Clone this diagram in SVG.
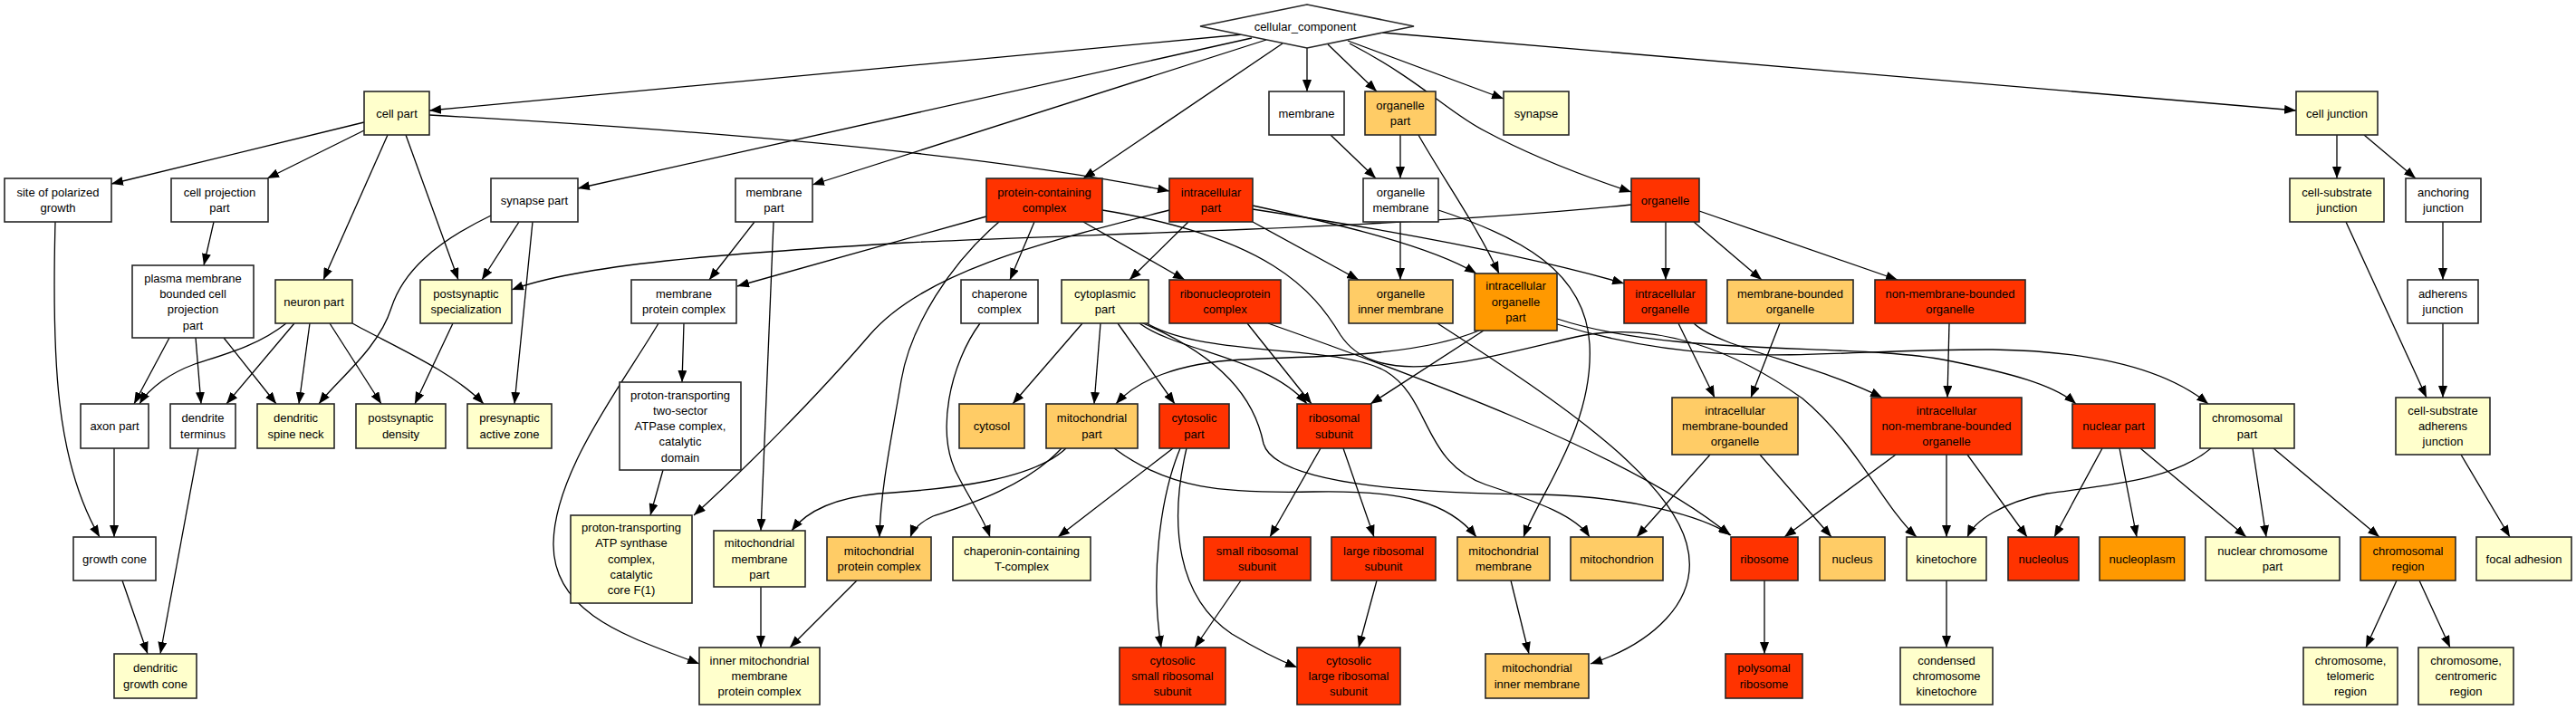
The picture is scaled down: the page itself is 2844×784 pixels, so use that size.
<svg xmlns="http://www.w3.org/2000/svg" width="2844" height="784" viewBox="0 0 2844 784">
<defs>
<marker id="arr" viewBox="0 0 13 10" refX="13" refY="5" markerWidth="13" markerHeight="10" markerUnits="userSpaceOnUse" orient="auto" preserveAspectRatio="none"><path d="M0,0 L13,5 L0,10 z" fill="#000"/></marker>
<style>
.node rect,.node polygon{stroke:#262626;stroke-width:1.6}
.w{fill:#ffffff}.y{fill:#ffffcc}.o{fill:#ffcc66}.d{fill:#ff9900}.r{fill:#ff3300}
text{font-family:"Liberation Sans",Arial,sans-serif;font-size:13px;fill:#000;text-anchor:middle}
#edges path{fill:none;stroke:#000;stroke-width:1.3;marker-end:url(#arr)}
</style>
</defs>
<rect width="2844" height="784" fill="#fff"/>
<g id="edges">
<path d="M1372,38 L474,122"/>
<path d="M1382,42 L638,208"/>
<path d="M1398,44 L897,204"/>
<path d="M1416,48 L1196,197"/>
<path d="M1443,53 L1443,101"/>
<path d="M1466,49 L1520,101"/>
<path d="M1488,45 L1660,109"/>
<path d="M1490,48 C1570,90 1600,125 1640,145 C1690,172 1750,195 1801,212"/>
<path d="M1526,36 L2535,122"/>
<path d="M402,135 L123,203"/>
<path d="M402,144 L295,197"/>
<path d="M428,149 L357,309"/>
<path d="M448,149 L506,309"/>
<path d="M474,127 C800,145 1100,172 1291,211"/>
<path d="M236,245 L225,293"/>
<path d="M573,245 L532,309"/>
<path d="M542,238 C480,268 445,300 432,340 C418,385 372,420 352,446"/>
<path d="M588,245 L568,446"/>
<path d="M61,245 C57,400 62,510 110,593"/>
<path d="M187,373 L148,446"/>
<path d="M216,373 L222,446"/>
<path d="M247,373 L305,446"/>
<path d="M316,357 C285,382 245,392 215,402 C188,412 165,428 154,446"/>
<path d="M325,357 L250,446"/>
<path d="M342,357 L330,446"/>
<path d="M364,357 L421,446"/>
<path d="M389,357 C430,380 500,410 534,446"/>
<path d="M500,357 L458,446"/>
<path d="M126,495 L126,593"/>
<path d="M135,641 L163,722"/>
<path d="M219,495 L177,722"/>
<path d="M1801,226 C1550,252 1200,258 1000,268 C800,280 640,292 565,320"/>
<path d="M833,245 L783,309"/>
<path d="M854,245 L840,586"/>
<path d="M1089,239 L814,316"/>
<path d="M1142,245 L1115,309"/>
<path d="M1196,245 L1308,309"/>
<path d="M1103,245 C1050,290 1005,360 995,420 C985,480 972,540 971,593"/>
<path d="M1217,232 C1400,262 1450,320 1480,370 C1520,430 1620,400 1740,372 C1830,352 1920,390 1990,440 C2050,490 2080,560 2116,593"/>
<path d="M1312,245 L1247,309"/>
<path d="M1291,232 C1150,268 1020,300 960,370 C900,440 820,520 766,569"/>
<path d="M1383,227 C1480,248 1580,272 1630,302"/>
<path d="M1383,231 C1520,252 1680,280 1793,313"/>
<path d="M1383,245 L1500,309"/>
<path d="M1546,149 L1546,197"/>
<path d="M1566,149 C1592,195 1628,245 1655,302"/>
<path d="M1469,149 L1519,197"/>
<path d="M1546,245 L1546,309"/>
<path d="M1588,232 C1680,262 1750,300 1755,380 C1760,470 1700,545 1682,593"/>
<path d="M1839,245 L1839,309"/>
<path d="M1870,245 L1945,309"/>
<path d="M1876,233 L2095,309"/>
<path d="M1587,357 C1700,430 1840,520 1862,600 C1880,665 1820,712 1756,733"/>
<path d="M1633,365 C1560,395 1450,393 1370,397 C1300,401 1255,420 1232,446"/>
<path d="M1638,365 L1513,446"/>
<path d="M1719,352 C1850,395 2050,378 2150,398 C2220,412 2268,425 2292,446"/>
<path d="M1719,358 C1900,412 2010,385 2200,386 C2330,388 2400,415 2438,446"/>
<path d="M1853,357 L1893,439"/>
<path d="M1870,357 C1900,385 2000,400 2078,439"/>
<path d="M1965,357 L1933,439"/>
<path d="M2152,357 L2150,439"/>
<path d="M1888,502 L1807,593"/>
<path d="M1943,502 L2022,593"/>
<path d="M2093,502 L1970,593"/>
<path d="M2149,502 L2149,593"/>
<path d="M2172,502 L2238,593"/>
<path d="M2321,495 L2268,593"/>
<path d="M2340,495 L2359,593"/>
<path d="M2363,495 L2480,593"/>
<path d="M2487,495 L2502,593"/>
<path d="M2510,495 L2627,593"/>
<path d="M2441,495 C2400,530 2330,535 2260,545 C2210,555 2180,575 2172,593"/>
<path d="M2646,641 L2612,715"/>
<path d="M2671,641 L2705,715"/>
<path d="M2149,641 L2149,715"/>
<path d="M2580,149 L2580,197"/>
<path d="M2610,149 L2667,197"/>
<path d="M2697,245 L2697,309"/>
<path d="M2697,357 L2697,439"/>
<path d="M2590,245 L2679,439"/>
<path d="M2717,502 L2771,593"/>
<path d="M1195,357 L1118,446"/>
<path d="M1215,357 L1208,446"/>
<path d="M1234,357 L1297,446"/>
<path d="M1258,357 C1300,388 1400,395 1443,446"/>
<path d="M1262,357 C1350,395 1385,440 1395,490 C1410,540 1600,545 1700,546 C1800,548 1880,570 1911,591"/>
<path d="M1266,357 C1330,395 1480,380 1530,410 C1580,440 1570,510 1640,535 C1700,555 1740,570 1755,593"/>
<path d="M1377,357 L1448,446"/>
<path d="M1400,357 C1550,410 1800,500 1910,591"/>
<path d="M1458,495 L1402,593"/>
<path d="M1483,495 L1517,593"/>
<path d="M1370,641 L1319,715"/>
<path d="M1520,641 L1500,715"/>
<path d="M1295,495 L1168,593"/>
<path d="M1303,495 C1280,550 1270,640 1282,715"/>
<path d="M1310,495 C1290,580 1300,660 1360,700 C1390,718 1410,728 1432,737"/>
<path d="M1082,357 C1050,400 1030,480 1060,530 C1075,558 1087,575 1093,593"/>
<path d="M1177,495 C1140,530 1050,540 970,545 C920,550 890,565 874,586"/>
<path d="M1172,495 C1130,540 1060,560 1030,570 C1015,577 1008,585 1005,593"/>
<path d="M1230,495 C1290,540 1350,545 1450,543 C1550,541 1600,555 1630,593"/>
<path d="M840,648 L840,715"/>
<path d="M946,641 L872,715"/>
<path d="M727,357 C690,420 612,520 611,600 C610,680 700,705 772,733"/>
<path d="M755,357 L753,422"/>
<path d="M732,519 L718,569"/>
<path d="M1668,641 L1688,722"/>
<path d="M1948,641 L1948,722"/>
</g>
<g id="n_cellular_component" class="node"><polygon class="w" points="1325,29 1443,5 1561,29 1443,53"/><text x="1441" y="33.6">cellular_component</text></g>
<g id="n_cell_part" class="node"><rect class="y" x="402" y="101" width="72" height="48"/><text x="438" y="129.6">cell part</text></g>
<g id="n_membrane" class="node"><rect class="w" x="1401" y="101" width="83" height="48"/><text x="1442.5" y="129.6">membrane</text></g>
<g id="n_organelle_part" class="node"><rect class="o" x="1507" y="101" width="78" height="48"/><text x="1546" y="120.95">organelle<tspan x="1546" dy="17.3">part</tspan></text></g>
<g id="n_synapse" class="node"><rect class="y" x="1660" y="101" width="72" height="48"/><text x="1696" y="129.6">synapse</text></g>
<g id="n_cell_junction" class="node"><rect class="y" x="2535" y="101" width="90" height="48"/><text x="2580" y="129.6">cell junction</text></g>
<g id="n_site_polarized" class="node"><rect class="w" x="5" y="197" width="118" height="48"/><text x="64" y="216.95">site of polarized<tspan x="64" dy="17.3">growth</tspan></text></g>
<g id="n_cell_projection_part" class="node"><rect class="w" x="189" y="197" width="107" height="48"/><text x="242.5" y="216.95">cell projection<tspan x="242.5" dy="17.3">part</tspan></text></g>
<g id="n_synapse_part" class="node"><rect class="w" x="542" y="197" width="96" height="48"/><text x="590" y="225.6">synapse part</text></g>
<g id="n_membrane_part" class="node"><rect class="w" x="812" y="197" width="85" height="48"/><text x="854.5" y="216.95">membrane<tspan x="854.5" dy="17.3">part</tspan></text></g>
<g id="n_protein_containing_complex" class="node"><rect class="r" x="1089" y="197" width="128" height="48"/><text x="1153" y="216.95">protein-containing<tspan x="1153" dy="17.3">complex</tspan></text></g>
<g id="n_intracellular_part" class="node"><rect class="r" x="1291" y="197" width="92" height="48"/><text x="1337" y="216.95">intracellular<tspan x="1337" dy="17.3">part</tspan></text></g>
<g id="n_organelle_membrane" class="node"><rect class="w" x="1505" y="197" width="83" height="48"/><text x="1546.5" y="216.95">organelle<tspan x="1546.5" dy="17.3">membrane</tspan></text></g>
<g id="n_organelle" class="node"><rect class="r" x="1801" y="197" width="75" height="48"/><text x="1838.5" y="225.6">organelle</text></g>
<g id="n_cell_substrate_junction" class="node"><rect class="y" x="2528" y="197" width="104" height="48"/><text x="2580" y="216.95">cell-substrate<tspan x="2580" dy="17.3">junction</tspan></text></g>
<g id="n_anchoring_junction" class="node"><rect class="w" x="2656" y="197" width="83" height="48"/><text x="2697.5" y="216.95">anchoring<tspan x="2697.5" dy="17.3">junction</tspan></text></g>
<g id="n_plasma_membrane_bounded" class="node"><rect class="w" x="146" y="293" width="134" height="80"/><text x="213" y="311.65">plasma membrane<tspan x="213" dy="17.3">bounded cell</tspan><tspan x="213" dy="17.3">projection</tspan><tspan x="213" dy="17.3">part</tspan></text></g>
<g id="n_neuron_part" class="node"><rect class="y" x="304" y="309" width="85" height="48"/><text x="346.5" y="337.6">neuron part</text></g>
<g id="n_postsynaptic_specialization" class="node"><rect class="y" x="464" y="309" width="101" height="48"/><text x="514.5" y="328.95">postsynaptic<tspan x="514.5" dy="17.3">specialization</tspan></text></g>
<g id="n_membrane_protein_complex" class="node"><rect class="w" x="697" y="309" width="116" height="48"/><text x="755" y="328.95">membrane<tspan x="755" dy="17.3">protein complex</tspan></text></g>
<g id="n_chaperone_complex" class="node"><rect class="w" x="1061" y="309" width="85" height="48"/><text x="1103.5" y="328.95">chaperone<tspan x="1103.5" dy="17.3">complex</tspan></text></g>
<g id="n_cytoplasmic_part" class="node"><rect class="y" x="1172" y="309" width="96" height="48"/><text x="1220" y="328.95">cytoplasmic<tspan x="1220" dy="17.3">part</tspan></text></g>
<g id="n_ribonucleoprotein_complex" class="node"><rect class="r" x="1291" y="309" width="123" height="48"/><text x="1352.5" y="328.95">ribonucleoprotein<tspan x="1352.5" dy="17.3">complex</tspan></text></g>
<g id="n_organelle_inner_membrane" class="node"><rect class="o" x="1489" y="309" width="115" height="48"/><text x="1546.5" y="328.95">organelle<tspan x="1546.5" dy="17.3">inner membrane</tspan></text></g>
<g id="n_intracellular_organelle_part" class="node"><rect class="d" x="1628" y="302" width="91" height="63"/><text x="1673.5" y="320.3">intracellular<tspan x="1673.5" dy="17.3">organelle</tspan><tspan x="1673.5" dy="17.3">part</tspan></text></g>
<g id="n_intracellular_organelle" class="node"><rect class="r" x="1793" y="309" width="91" height="48"/><text x="1838.5" y="328.95">intracellular<tspan x="1838.5" dy="17.3">organelle</tspan></text></g>
<g id="n_membrane_bounded_organelle" class="node"><rect class="o" x="1907" y="309" width="139" height="48"/><text x="1976.5" y="328.95">membrane-bounded<tspan x="1976.5" dy="17.3">organelle</tspan></text></g>
<g id="n_non_membrane_bounded_organelle" class="node"><rect class="r" x="2070" y="309" width="166" height="48"/><text x="2153" y="328.95">non-membrane-bounded<tspan x="2153" dy="17.3">organelle</tspan></text></g>
<g id="n_adherens_junction" class="node"><rect class="w" x="2658" y="309" width="78" height="48"/><text x="2697" y="328.95">adherens<tspan x="2697" dy="17.3">junction</tspan></text></g>
<g id="n_axon_part" class="node"><rect class="w" x="89" y="446" width="75" height="49"/><text x="126.5" y="475.1">axon part</text></g>
<g id="n_dendrite_terminus" class="node"><rect class="w" x="188" y="446" width="72" height="49"/><text x="224" y="466.45">dendrite<tspan x="224" dy="17.3">terminus</tspan></text></g>
<g id="n_dendritic_spine_neck" class="node"><rect class="y" x="284" y="446" width="85" height="49"/><text x="326.5" y="466.45">dendritic<tspan x="326.5" dy="17.3">spine neck</tspan></text></g>
<g id="n_postsynaptic_density" class="node"><rect class="y" x="393" y="446" width="99" height="49"/><text x="442.5" y="466.45">postsynaptic<tspan x="442.5" dy="17.3">density</tspan></text></g>
<g id="n_presynaptic_active_zone" class="node"><rect class="y" x="516" y="446" width="93" height="49"/><text x="562.5" y="466.45">presynaptic<tspan x="562.5" dy="17.3">active zone</tspan></text></g>
<g id="n_two_sector_catalytic" class="node"><rect class="w" x="684" y="422" width="134" height="97"/><text x="751" y="440.5">proton-transporting<tspan x="751" dy="17.3">two-sector</tspan><tspan x="751" dy="17.3">ATPase complex,</tspan><tspan x="751" dy="17.3">catalytic</tspan><tspan x="751" dy="17.3">domain</tspan></text></g>
<g id="n_cytosol" class="node"><rect class="o" x="1059" y="446" width="72" height="49"/><text x="1095" y="475.1">cytosol</text></g>
<g id="n_mitochondrial_part" class="node"><rect class="o" x="1155" y="446" width="101" height="49"/><text x="1205.5" y="466.45">mitochondrial<tspan x="1205.5" dy="17.3">part</tspan></text></g>
<g id="n_cytosolic_part" class="node"><rect class="r" x="1280" y="446" width="77" height="49"/><text x="1318.5" y="466.45">cytosolic<tspan x="1318.5" dy="17.3">part</tspan></text></g>
<g id="n_ribosomal_subunit" class="node"><rect class="r" x="1432" y="446" width="82" height="49"/><text x="1473" y="466.45">ribosomal<tspan x="1473" dy="17.3">subunit</tspan></text></g>
<g id="n_intracellular_mbo" class="node"><rect class="o" x="1846" y="439" width="139" height="63"/><text x="1915.5" y="457.8">intracellular<tspan x="1915.5" dy="17.3">membrane-bounded</tspan><tspan x="1915.5" dy="17.3">organelle</tspan></text></g>
<g id="n_intracellular_nmbo" class="node"><rect class="r" x="2066" y="439" width="166" height="63"/><text x="2149" y="457.8">intracellular<tspan x="2149" dy="17.3">non-membrane-bounded</tspan><tspan x="2149" dy="17.3">organelle</tspan></text></g>
<g id="n_nuclear_part" class="node"><rect class="r" x="2288" y="446" width="91" height="49"/><text x="2333.5" y="475.1">nuclear part</text></g>
<g id="n_chromosomal_part" class="node"><rect class="y" x="2429" y="446" width="104" height="49"/><text x="2481" y="466.45">chromosomal<tspan x="2481" dy="17.3">part</tspan></text></g>
<g id="n_cell_substrate_adherens_junction" class="node"><rect class="y" x="2645" y="439" width="104" height="63"/><text x="2697" y="457.8">cell-substrate<tspan x="2697" dy="17.3">adherens</tspan><tspan x="2697" dy="17.3">junction</tspan></text></g>
<g id="n_growth_cone" class="node"><rect class="w" x="81" y="593" width="91" height="48"/><text x="126.5" y="621.6">growth cone</text></g>
<g id="n_atp_synthase_core" class="node"><rect class="y" x="630" y="569" width="134" height="97"/><text x="697" y="587">proton-transporting<tspan x="697" dy="17.3">ATP synthase</tspan><tspan x="697" dy="17.3">complex,</tspan><tspan x="697" dy="17.3">catalytic</tspan><tspan x="697" dy="17.3">core F(1)</tspan></text></g>
<g id="n_mito_membrane_part" class="node"><rect class="y" x="788" y="586" width="101" height="62"/><text x="838.5" y="604.3">mitochondrial<tspan x="838.5" dy="17.3">membrane</tspan><tspan x="838.5" dy="17.3">part</tspan></text></g>
<g id="n_mito_protein_complex" class="node"><rect class="o" x="913" y="593" width="115" height="48"/><text x="970.5" y="612.95">mitochondrial<tspan x="970.5" dy="17.3">protein complex</tspan></text></g>
<g id="n_cct" class="node"><rect class="y" x="1052" y="593" width="152" height="48"/><text x="1128" y="612.95">chaperonin-containing<tspan x="1128" dy="17.3">T-complex</tspan></text></g>
<g id="n_small_ribosomal_subunit" class="node"><rect class="r" x="1329" y="593" width="118" height="48"/><text x="1388" y="612.95">small ribosomal<tspan x="1388" dy="17.3">subunit</tspan></text></g>
<g id="n_large_ribosomal_subunit" class="node"><rect class="r" x="1470" y="593" width="115" height="48"/><text x="1527.5" y="612.95">large ribosomal<tspan x="1527.5" dy="17.3">subunit</tspan></text></g>
<g id="n_mitochondrial_membrane" class="node"><rect class="o" x="1609" y="593" width="102" height="48"/><text x="1660" y="612.95">mitochondrial<tspan x="1660" dy="17.3">membrane</tspan></text></g>
<g id="n_mitochondrion" class="node"><rect class="o" x="1734" y="593" width="102" height="48"/><text x="1785" y="621.6">mitochondrion</text></g>
<g id="n_ribosome" class="node"><rect class="r" x="1911" y="593" width="74" height="48"/><text x="1948" y="621.6">ribosome</text></g>
<g id="n_nucleus" class="node"><rect class="o" x="2009" y="593" width="72" height="48"/><text x="2045" y="621.6">nucleus</text></g>
<g id="n_kinetochore" class="node"><rect class="y" x="2105" y="593" width="88" height="48"/><text x="2149" y="621.6">kinetochore</text></g>
<g id="n_nucleolus" class="node"><rect class="r" x="2217" y="593" width="78" height="48"/><text x="2256" y="621.6">nucleolus</text></g>
<g id="n_nucleoplasm" class="node"><rect class="d" x="2318" y="593" width="94" height="48"/><text x="2365" y="621.6">nucleoplasm</text></g>
<g id="n_nuclear_chromosome_part" class="node"><rect class="y" x="2435" y="593" width="148" height="48"/><text x="2509" y="612.95">nuclear chromosome<tspan x="2509" dy="17.3">part</tspan></text></g>
<g id="n_chromosomal_region" class="node"><rect class="d" x="2606" y="593" width="105" height="48"/><text x="2658.5" y="612.95">chromosomal<tspan x="2658.5" dy="17.3">region</tspan></text></g>
<g id="n_focal_adhesion" class="node"><rect class="y" x="2734" y="593" width="105" height="48"/><text x="2786.5" y="621.6">focal adhesion</text></g>
<g id="n_dendritic_growth_cone" class="node"><rect class="y" x="126" y="722" width="91" height="49"/><text x="171.5" y="742.45">dendritic<tspan x="171.5" dy="17.3">growth cone</tspan></text></g>
<g id="n_inner_mito_mpc" class="node"><rect class="y" x="772" y="715" width="133" height="63"/><text x="838.5" y="733.8">inner mitochondrial<tspan x="838.5" dy="17.3">membrane</tspan><tspan x="838.5" dy="17.3">protein complex</tspan></text></g>
<g id="n_cytosolic_small" class="node"><rect class="r" x="1236" y="715" width="117" height="63"/><text x="1294.5" y="733.8">cytosolic<tspan x="1294.5" dy="17.3">small ribosomal</tspan><tspan x="1294.5" dy="17.3">subunit</tspan></text></g>
<g id="n_cytosolic_large" class="node"><rect class="r" x="1432" y="715" width="114" height="63"/><text x="1489" y="733.8">cytosolic<tspan x="1489" dy="17.3">large ribosomal</tspan><tspan x="1489" dy="17.3">subunit</tspan></text></g>
<g id="n_mito_inner_membrane" class="node"><rect class="o" x="1640" y="722" width="114" height="49"/><text x="1697" y="742.45">mitochondrial<tspan x="1697" dy="17.3">inner membrane</tspan></text></g>
<g id="n_polysomal_ribosome" class="node"><rect class="r" x="1905" y="722" width="85" height="49"/><text x="1947.5" y="742.45">polysomal<tspan x="1947.5" dy="17.3">ribosome</tspan></text></g>
<g id="n_condensed_ck" class="node"><rect class="y" x="2098" y="715" width="102" height="63"/><text x="2149" y="733.8">condensed<tspan x="2149" dy="17.3">chromosome</tspan><tspan x="2149" dy="17.3">kinetochore</tspan></text></g>
<g id="n_telomeric" class="node"><rect class="y" x="2543" y="715" width="104" height="63"/><text x="2595" y="733.8">chromosome,<tspan x="2595" dy="17.3">telomeric</tspan><tspan x="2595" dy="17.3">region</tspan></text></g>
<g id="n_centromeric" class="node"><rect class="y" x="2670" y="715" width="105" height="63"/><text x="2722.5" y="733.8">chromosome,<tspan x="2722.5" dy="17.3">centromeric</tspan><tspan x="2722.5" dy="17.3">region</tspan></text></g>
</svg>
